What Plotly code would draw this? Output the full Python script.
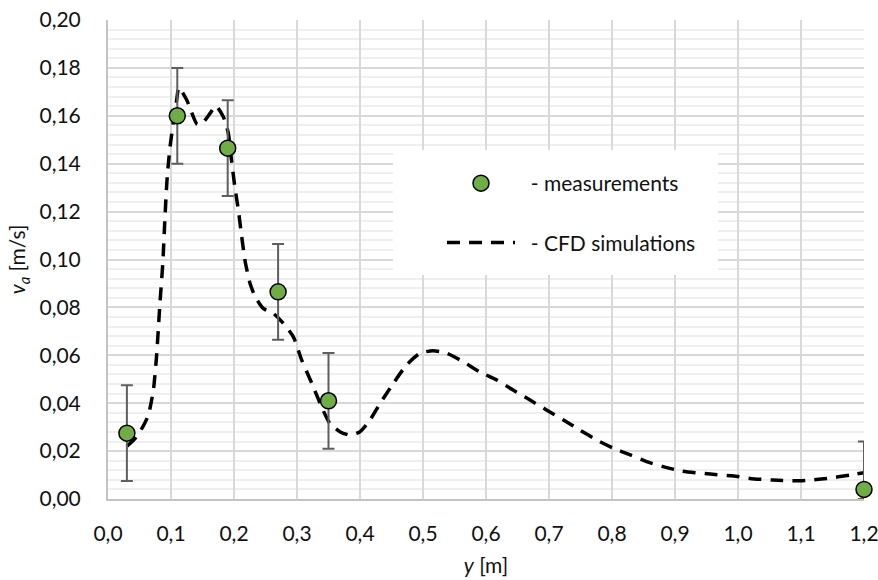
import plotly.graph_objects as go

# Measurements
meas_y_pos = [0.03, 0.11, 0.19, 0.27, 0.35, 1.20]
meas_va = [0.0275, 0.160, 0.1465, 0.0865, 0.041, 0.004]
meas_err_plus = [0.02, 0.02, 0.02, 0.02, 0.02, 0.02]
meas_err_minus = [0.02, 0.02, 0.02, 0.02, 0.02, 0.004]

# CFD simulation profile
cfd_y_pos = [0.03, 0.042, 0.055, 0.064, 0.072, 0.077, 0.0825, 0.087, 0.0905, 0.094,
             0.0985, 0.104, 0.109, 0.1125, 0.125, 0.1415, 0.149, 0.162, 0.171, 0.183,
             0.191, 0.196, 0.2015, 0.207, 0.212, 0.2175, 0.2255, 0.2335, 0.2465, 0.2625,
             0.278, 0.294, 0.3075, 0.3235, 0.339, 0.352, 0.368, 0.384, 0.400, 0.416,
             0.432, 0.453, 0.474, 0.495, 0.516, 0.538, 0.564, 0.590, 0.617, 0.643,
             0.670, 0.696, 0.723, 0.749, 0.776, 0.802, 0.829, 0.855, 0.881, 0.908,
             0.932, 0.956, 0.993, 1.019, 1.056, 1.098, 1.141, 1.178, 1.200]
cfd_va = [0.022, 0.025, 0.030, 0.0350, 0.0455, 0.0594, 0.082, 0.0985, 0.118, 0.1346,
          0.147, 0.158, 0.1666, 0.1718, 0.1666, 0.1565, 0.1567, 0.161, 0.1642, 0.1596,
          0.1527, 0.1415, 0.130, 0.1205, 0.1100, 0.0995, 0.0900, 0.0845, 0.0796, 0.0775,
          0.0734, 0.0678, 0.058, 0.0483, 0.0385, 0.0316, 0.0281, 0.0267, 0.0281, 0.033,
          0.040, 0.0483, 0.056, 0.0608, 0.0619, 0.0608, 0.0573, 0.0531, 0.0497, 0.0455,
          0.0413, 0.0372, 0.033, 0.0288, 0.0246, 0.0212, 0.0184, 0.0156, 0.0135, 0.0118,
          0.011, 0.0104, 0.0096, 0.0086, 0.0079, 0.0076, 0.0086, 0.010, 0.011]

x_ticks = [i / 10 for i in range(13)]
y_ticks = [i / 50 for i in range(11)]

FONT = "Lato, 'Open Sans', sans-serif"
FS = 21
NB = "\u00a0\u00a0"

fig = go.Figure()

fig.add_trace(go.Scatter(
    x=cfd_y_pos, y=cfd_va, mode="lines",
    name=NB + "- CFD simulations",
    line=dict(color="black", width=3.5, dash="13px,9px", shape="spline", smoothing=0.6),
    legendgroup="cfd", legendrank=2,
))

fig.add_trace(go.Scatter(
    x=meas_y_pos, y=meas_va, mode="markers",
    name=NB + "- measurements",
    marker=dict(size=16, color="#70AD47", line=dict(color="black", width=1.5)),
    error_y=dict(type="data", symmetric=False, array=meas_err_plus, arrayminus=meas_err_minus,
                 color="#5f5f5f", thickness=2, width=6),
    cliponaxis=False,
    legendgroup="meas", legendrank=1,
))

W, H = 878, 580
L, R, T, B = 108, 14, 20, 81
pw, ph = W - L - R, H - T - B

def px_x(p):
    return (p - L) / pw

def px_y(p):
    return (H - B - p) / ph

fig.add_shape(type="rect", xref="paper", yref="paper",
              x0=px_x(393), x1=px_x(718), y0=px_y(275), y1=px_y(150),
              fillcolor="white", line=dict(width=0), layer="above")

fig.update_layout(
    width=W, height=H,
    margin=dict(l=L, r=R, t=T, b=B, autoexpand=False),
    paper_bgcolor="white", plot_bgcolor="white",
    separators=", ",
    font=dict(family=FONT, size=FS, color="#111111"),
    showlegend=True,
    legend=dict(
        x=px_x(442), xanchor="left", y=px_y(163), yanchor="top",
        bgcolor="rgba(0,0,0,0)", borderwidth=0,
        itemwidth=68, traceorder="grouped", tracegroupgap=29,
        font=dict(family=FONT, size=FS, color="#111111"),
    ),
    xaxis=dict(
        range=[0, 1.2], tickvals=x_ticks, tickformat=".1f",
        showgrid=True, gridcolor="#d9d9d9", gridwidth=2,
        showline=True, linecolor="#c4c4c4", linewidth=2,
        zeroline=False, ticks="", ticklabelstandoff=15,
        ticklabeloverflow="allow",
        title=dict(text="<i>y</i> [m]", standoff=14, font=dict(family=FONT, size=FS)),
        automargin=False,
    ),
    yaxis=dict(
        range=[0, 0.2], tickvals=y_ticks, tickformat=".2f",
        showgrid=True, gridcolor="#d9d9d9", gridwidth=2,
        minor=dict(dtick=0.004, showgrid=True, gridcolor="#efefef", gridwidth=1.5),
        showline=True, linecolor="#c4c4c4", linewidth=2,
        zeroline=False, ticks="", ticklabelstandoff=21,
        ticklabeloverflow="allow",
        title=dict(text="<i>v</i><sub><i>a</i></sub> [m/s]", standoff=8, font=dict(family=FONT, size=FS)),
        automargin=False,
    ),
)

fig.write_html("out.html")
